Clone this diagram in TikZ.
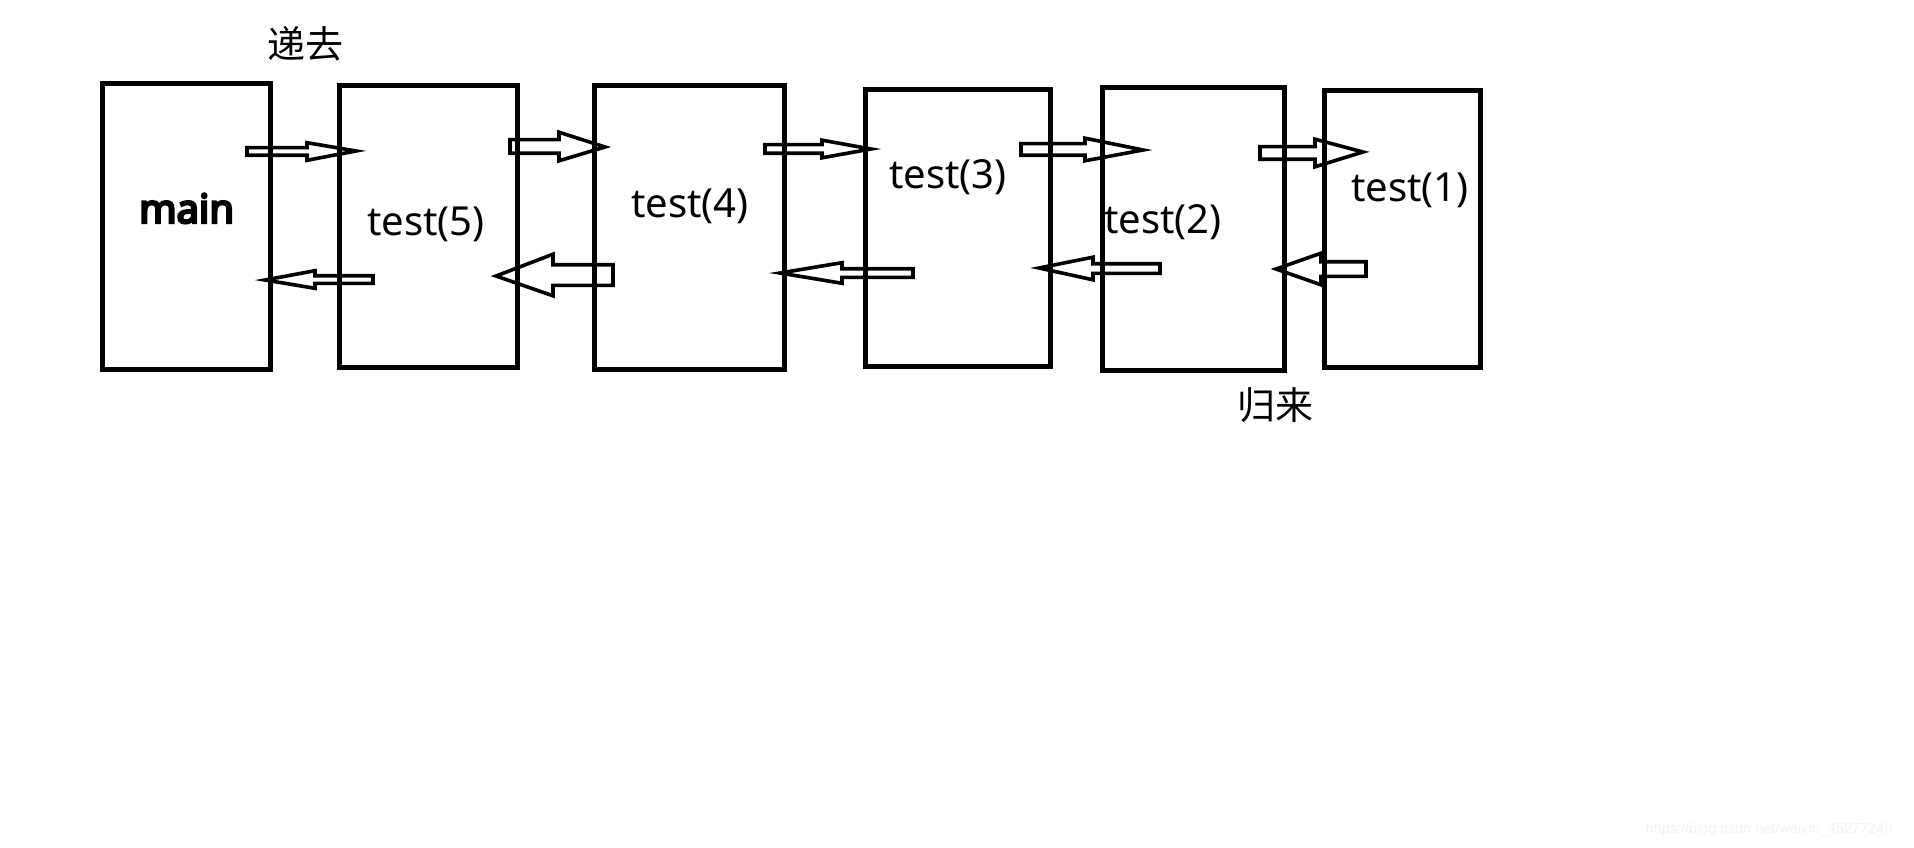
\documentclass[tikz,border=0pt]{standalone}
\usepackage{fontspec}
\setmainfont{Noto Sans}
\newfontfamily\mainb{Noto Sans}[FakeBold=6]
\newfontfamily\cjk{Noto Sans CJK SC}
\newfontfamily\wmfont{Liberation Sans}
\usetikzlibrary{calc}
\tikzset{
  box/.style={draw, line width=5pt, line join=miter},
  lbl/.style={inner sep=0pt, anchor=base west, font=\fontsize{40}{46}\selectfont},
  cjklbl/.style={inner sep=0pt, anchor=center, font=\cjk\fontsize{38}{44}\selectfont},
  blk/.style={draw, line width=3.6pt, line join=miter, miter limit=20}
}
% tail, tip, shaft half width, head half width, head length
\newcommand\blkarrow[5]{%
  \draw[blk] let \p1=(#1), \p2=(#2), \n1={sign(\x2-\x1)*#5pt} in
    (\x1,\y1+#3pt) -- (\x2-\n1,\y1+#3pt) -- (\x2-\n1,\y1+#4pt) -- (\p2)
    -- (\x2-\n1,\y1-#4pt) -- (\x2-\n1,\y1-#3pt) -- (\x1,\y1-#3pt) -- cycle;}
\begin{document}
\begin{tikzpicture}[x=1pt,y=-1pt]
\useasboundingbox (0,0) rectangle (1914,848);
% boxes
\draw[box] (102,83.5) rectangle (270,369);
\draw[box] (339,86) rectangle (517,367);
\draw[box] (594,86) rectangle (784,369);
\draw[box] (865,90) rectangle (1050,366);
\draw[box] (1102,88) rectangle (1284,370);
\draw[box] (1324,91) rectangle (1480,367);
% labels
\node[lbl, font=\mainb\fontsize{40}{46}\selectfont] (main) at (139,223) {main};
\node[lbl] (t5) at (367,235) {test(5)};
\node[lbl] (t4) at (631,217) {test(4)};
\node[lbl] (t3) at (889,188) {test(3)};
\node[lbl] (t2) at (1104,233) {test(2)};
\node[lbl] (t1) at (1351,201) {test(1)};
\node[cjklbl] (digo) at (305,44) {递去};
\node[cjklbl] (gui) at (1275,405) {归来};
% arrow end points
\coordinate (a1s) at (247,151.5);  \coordinate (a1e) at (356,151);
\coordinate (r1s) at (373,279.5);  \coordinate (r1e) at (265,280);
\coordinate (a2s) at (510,146.5);  \coordinate (a2e) at (605,147);
\coordinate (r2s) at (613,275);    \coordinate (r2e) at (496,276);
\coordinate (a3s) at (765,149);    \coordinate (a3e) at (871,149);
\coordinate (r3s) at (913,273);    \coordinate (r3e) at (780,273);
\coordinate (a4s) at (1021,149.5); \coordinate (a4e) at (1143,150);
\coordinate (r4s) at (1160,268.5); \coordinate (r4e) at (1039,268);
\coordinate (a5s) at (1260,153);   \coordinate (a5e) at (1363,152);
\coordinate (r5s) at (1366,269);   \coordinate (r5e) at (1276,269);
% arrows
\blkarrow{a1s}{a1e}{3.8}{8.8}{49}
\blkarrow{r1s}{r1e}{3.8}{8.8}{50}
\blkarrow{a2s}{a2e}{6.8}{14.3}{46}
\blkarrow{r2s}{r2e}{10.3}{20.8}{57}
\blkarrow{a3s}{a3e}{4.3}{8.8}{49}
\blkarrow{r3s}{r3e}{4.3}{10.3}{62}
\blkarrow{a4s}{a4e}{5.8}{11.3}{58}
\blkarrow{r4s}{r4e}{4.8}{11.3}{54}
\blkarrow{a5s}{a5e}{6.3}{13.8}{48}
\blkarrow{r5s}{r5e}{7.3}{15.8}{45}
% watermark
\node[inner sep=0pt, text=black!5, font=\wmfont\fontsize{14.5}{16}\selectfont] (wm) at (1769,830) {https://blog.csdn.net/weixin\_45277249};
\end{tikzpicture}
\end{document}
